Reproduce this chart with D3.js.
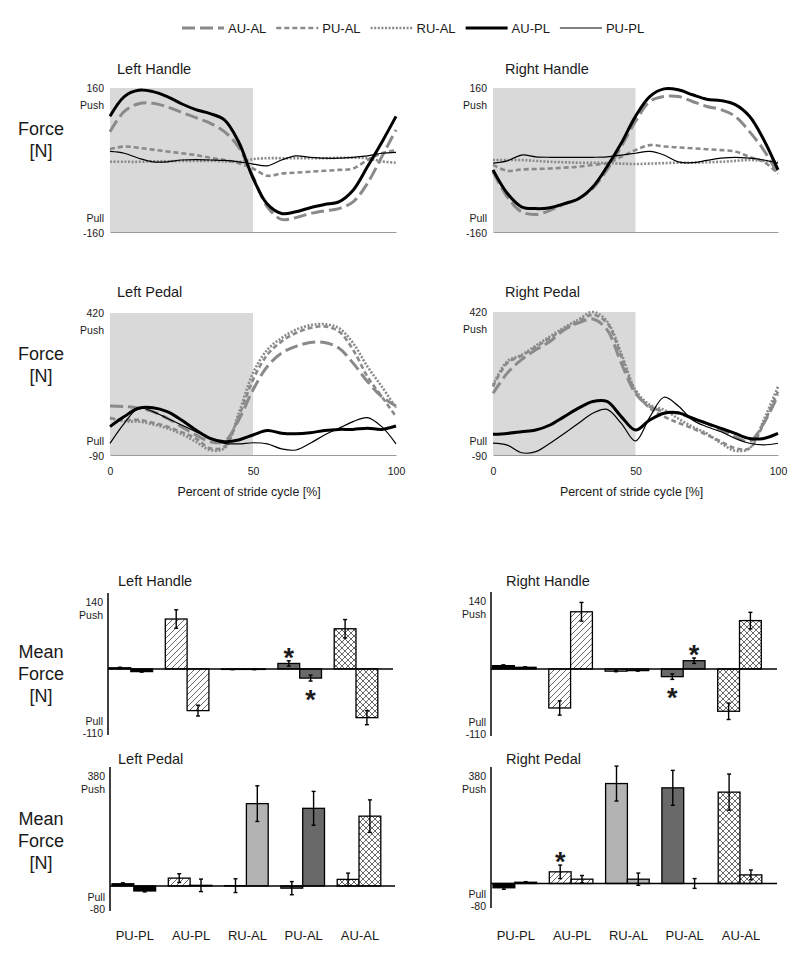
<!DOCTYPE html>
<html>
<head>
<meta charset="utf-8">
<script src="https://cdn.jsdelivr.net/npm/d3@7"></script>
<style>
  body { margin: 0; background: #fff; }
  text { font-family: "Liberation Sans", Arial, sans-serif; fill: #1a1a1a; }
</style>
</head>
<body>
<div id="chart"></div>
<script>
// ---- data ----
const seriesKeys = ["AU-AL", "PU-AL", "RU-AL", "AU-PL", "PU-PL"];
const strideSteps = [0, 5, 10, 15, 20, 25, 30, 35, 40, 45, 50, 55, 60, 65, 70, 75, 80, 85, 90, 95, 100];

// force traces over the stride cycle [N]
const leftHandle = {
  "AU-AL": [63, 108, 125, 126, 118, 106, 94, 82, 63, 28, -37, -104, -132, -128, -119, -113, -108, -93, -52, 7, 67],
  "PU-AL": [24, 30, 27, 23, 19, 15, 11, 5, 0, -7, -19, -35, -30, -28, -26, -24, -22, -19, 0, 15, 22],
  "RU-AL": [-4, -4, -4, -3, -3, -2, -2, -2, -3, -4, 2, 4, 4, 4, 4, 4, 5, 5, 4, -3, -6],
  "AU-PL": [97, 141, 155, 152, 141, 125, 112, 103, 89, 40, -40, -98, -119, -115, -106, -99, -93, -67, -15, 39, 97],
  "PU-PL": [19, 15, 4, -4, -4, 0, 1, 0, -1, -4, -9, -13, 0, 9, 6, 4, 4, 6, 9, 15, 17]
};
const rightHandle = {
  "AU-AL": [-26, -82, -115, -121, -112, -98, -86, -63, -22, 30, 86, 130, 141, 141, 130, 119, 112, 97, 63, 22, -31],
  "PU-AL": [-11, -24, -21, -20, -19, -17, -15, -11, -7, 7, 22, 33, 30, 28, 26, 24, 22, 19, 7, -4, -30],
  "RU-AL": [0, 0, 0, -2, -4, -5, -6, -6, -7, -8, -9, -8, -7, -6, -6, -5, -4, -2, 0, -2, -4],
  "AU-PL": [-22, -74, -104, -108, -106, -97, -86, -60, -15, 37, 97, 141, 158, 156, 145, 135, 132, 123, 97, 45, -22],
  "PU-PL": [-7, -2, 11, 7, 6, 6, 6, 6, 7, 11, 15, 19, 11, -4, -6, -1, 4, 6, 4, 0, -7]
};
const leftPedal = {
  "AU-AL": [86, 84, 78, 66, 42, 12, -18, -42, -42, 36, 144, 228, 276, 300, 314, 314, 294, 240, 174, 120, 86],
  "PU-AL": [42, 36, 36, 26, 12, -8, -30, -66, -60, 48, 180, 270, 318, 348, 366, 372, 354, 288, 192, 120, 48],
  "RU-AL": [44, 30, 30, 20, 6, -15, -42, -72, -66, 60, 204, 288, 330, 360, 376, 380, 366, 312, 228, 156, 80],
  "AU-PL": [12, 48, 78, 80, 66, 36, 0, -30, -42, -36, -18, -2, -12, -14, -10, -2, 2, 2, 6, 2, 14],
  "PU-PL": [-48, 24, 78, 66, 42, 18, -6, -30, -48, -50, -46, -50, -68, -72, -48, -18, 6, 30, 44, 12, -50]
};
const rightPedal = {
  "AU-AL": [130, 202, 250, 285, 315, 357, 381, 395, 357, 238, 130, 83, 65, 59, 41, 23, -1, -25, -42, 23, 124],
  "PU-AL": [154, 238, 264, 295, 327, 360, 387, 410, 381, 262, 136, 77, 47, 25, 5, -18, -42, -66, -66, 23, 136],
  "RU-AL": [160, 244, 267, 300, 333, 365, 393, 420, 387, 273, 142, 89, 71, 40, 11, -13, -48, -75, -66, 35, 154],
  "AU-PL": [-16, -13, -7, -1, 17, 47, 77, 101, 101, 47, -1, 35, 59, 61, 41, 23, 5, -13, -31, -31, -13],
  "PU-PL": [-48, -55, -82, -78, -48, -13, 23, 59, 73, 23, -40, 45, 116, 85, 35, 11, -7, -31, -48, -54, -48]
};

// mean forces (two bars per condition) and SD
const conditions = ["PU-PL", "AU-PL", "RU-AL", "PU-AL", "AU-AL"];
const lhMean1 = [2, 92, -1, 10, 74],     lhMean2 = [-5, -77, -1, -17, -90];
const lhErr1  = [1, 17, 0.5, 5, 17],     lhErr2  = [1, 10, 0.5, 5.5, 13];
const rhMean1 = [6, -71, -4, -14, -77],  rhMean2 = [3, 104, -3, 15, 88];
const rhErr1  = [1.5, 13, 1, 5, 15],     rhErr2  = [1, 17, 1, 5, 15];
const lpMean1 = [7, 25, 1, -7, 21],      lpMean2 = [-16, 2, 263, 248, 223];
const lpErr1  = [3, 14, 22, 21, 20],     lpErr2  = [3, 20, 57, 54, 52];
const rpMean1 = [-14, 38, 326, 312, 298], rpMean2 = [4, 14, 14, 0, 28];
const rpErr1  = [5, 22, 57, 57, 59],     rpErr2  = [2, 12, 20, 16, 16];

// significance markers: [condition, bar index, side]
const lhStars = [["PU-AL", 0, "above"], ["PU-AL", 1, "below"]];
const rhStars = [["PU-AL", 0, "below"], ["PU-AL", 1, "above"]];
const lpStars = [];
const rpStars = [["AU-PL", 0, "above"]];

const handleTicks = ["160", "-160"], pedalTicks = ["420", "-90"];
const handleBarTicks = ["140", "-110"], pedalBarTicks = ["380", "-80"];

// ---- setup ----
const svg = d3.select("#chart").append("svg")
  .attr("width", 800).attr("height", 967);

const gray = "#8a8a8a";
const lineStyle = {
  "AU-AL": { stroke: gray, width: 3, dash: "13,5" },
  "PU-AL": { stroke: gray, width: 2.6, dash: "5,3" },
  "RU-AL": { stroke: gray, width: 2.6, dash: "2,1.6" },
  "AU-PL": { stroke: "#000", width: 3, dash: null },
  "PU-PL": { stroke: "#000", width: 1.2, dash: null }
};

// patterns
const defs = svg.append("defs");
const hatch = defs.append("pattern").attr("id", "hatch")
  .attr("patternUnits", "userSpaceOnUse").attr("width", 6).attr("height", 6);
hatch.append("rect").attr("width", 6).attr("height", 6).attr("fill", "#fff");
hatch.append("path").attr("d", "M0,6 L6,0 M-1,1 L1,-1 M5,7 L7,5")
  .attr("stroke", "#444").attr("stroke-width", 0.8);
const cross = defs.append("pattern").attr("id", "cross")
  .attr("patternUnits", "userSpaceOnUse").attr("width", 6).attr("height", 6);
cross.append("rect").attr("width", 6).attr("height", 6).attr("fill", "#fff");
cross.append("path").attr("d", "M0,6 L6,0 M-1,1 L1,-1 M5,7 L7,5 M0,0 L6,6 M-1,5 L1,7 M5,-1 L7,1")
  .attr("stroke", "#444").attr("stroke-width", 0.8);

const barFill = {
  "PU-PL": "#000", "AU-PL": "url(#hatch)", "RU-AL": "#b3b3b3",
  "PU-AL": "#696969", "AU-AL": "url(#cross)"
};

// ---- legend ----
let lx = 182;
seriesKeys.forEach(k => {
  const s = lineStyle[k];
  svg.append("line")
    .attr("x1", lx).attr("x2", lx + 42).attr("y1", 28).attr("y2", 28)
    .attr("stroke", s.stroke).attr("stroke-width", s.width)
    .attr("stroke-dasharray", s.dash);
  const t = svg.append("text")
    .attr("x", lx + 46).attr("y", 32.5)
    .attr("font-size", "13px")
    .text(k);
  lx += 46 + t.node().getComputedTextLength() + 10;
});

function sideLabel(lines, cx, baselines) {
  lines.forEach((l, i) => {
    svg.append("text").attr("x", cx).attr("y", baselines[i])
      .attr("text-anchor", "middle").attr("font-size", "18px").text(l);
  });
}

// ---- line panels ----
function linePanel(o) {
  const x = d3.scaleLinear().domain([0, 100]).range([o.x0, o.x1]);
  const y = d3.scaleLinear().domain(o.domain).range([o.yBottom, o.yTop]);

  svg.append("rect")
    .attr("x", x(0)).attr("y", y(o.domain[1]))
    .attr("width", x(50) - x(0))
    .attr("height", y(o.domain[0]) - y(o.domain[1]))
    .attr("fill", "#d9d9d9");

  const ax = svg.append("g")
    .attr("transform", `translate(0,${y(o.domain[0])})`)
    .call(d3.axisBottom(x).tickValues([0, 50, 100]).tickSize(0).tickSizeOuter(0)
      .tickPadding(13).tickFormat(o.xLabels ? d3.format("d") : ""));
  ax.select(".domain").attr("stroke", "#9a9a9a");
  ax.selectAll("text").attr("font-size", "10.5px").attr("fill", "#1a1a1a")
    .style("font-family", "'Liberation Sans', Arial, sans-serif");

  const line = d3.line()
    .x((d, i) => x(strideSteps[i]))
    .y(d => y(d))
    .curve(d3.curveCatmullRom.alpha(0.5));

  seriesKeys.forEach(k => {
    const s = lineStyle[k];
    svg.append("path")
      .datum(o.series[k])
      .attr("fill", "none")
      .attr("stroke", s.stroke)
      .attr("stroke-width", s.width)
      .attr("stroke-dasharray", s.dash)
      .attr("d", line);
  });

  // y labels
  const lxp = o.x0 - 6;
  svg.append("text").attr("x", lxp).attr("y", y(o.domain[1]) + 4)
    .attr("text-anchor", "end").attr("font-size", "10.5px").text(o.ticks[0]);
  svg.append("text").attr("x", lxp).attr("y", y(o.domain[1]) + 21)
    .attr("text-anchor", "end").attr("font-size", "10.5px").text("Push");
  svg.append("text").attr("x", lxp).attr("y", y(o.domain[0]) - 10)
    .attr("text-anchor", "end").attr("font-size", "10.5px").text("Pull");
  svg.append("text").attr("x", lxp).attr("y", y(o.domain[0]) + 5)
    .attr("text-anchor", "end").attr("font-size", "10.5px").text(o.ticks[1]);

  svg.append("text").attr("x", o.titleX).attr("y", o.titleY)
    .attr("font-size", "14.5px").text(o.title);

  if (o.xLabels) {
    svg.append("text").attr("x", (o.x0 + o.x1) / 2 - 4).attr("y", o.yBottom + 41)
      .attr("text-anchor", "middle").attr("font-size", "12.4px")
      .text("Percent of stride cycle [%]");
  }
}

linePanel({ series: leftHandle, x0: 110, x1: 396, yTop: 88, yBottom: 232, domain: [-160, 160],
  ticks: handleTicks, title: "Left Handle", titleX: 117, titleY: 74 });
linePanel({ series: rightHandle, x0: 493, x1: 778, yTop: 88, yBottom: 232, domain: [-160, 160],
  ticks: handleTicks, title: "Right Handle", titleX: 505, titleY: 74 });
linePanel({ series: leftPedal, x0: 110, x1: 396, yTop: 313, yBottom: 455, domain: [-90, 420],
  ticks: pedalTicks, title: "Left Pedal", titleX: 117, titleY: 297, xLabels: true });
linePanel({ series: rightPedal, x0: 493, x1: 778, yTop: 312, yBottom: 455, domain: [-90, 420],
  ticks: pedalTicks, title: "Right Pedal", titleX: 505, titleY: 297, xLabels: true });

sideLabel(["Force", "[N]"], 41, [135, 157]);
sideLabel(["Force", "[N]"], 41, [360, 382]);

// ---- bar panels ----
function barPanel(o) {
  const y = d3.scaleLinear().domain(o.domain).range([o.yBottom, o.yTop]);
  const x0 = d3.scaleBand().domain(conditions)
    .range([o.barStart, o.barStart + 5 * 56.3 - 12.7]).paddingInner(12.7 / 56.3);
  const x1 = d3.scaleBand().domain([0, 1]).range([0, x0.bandwidth()]);

  const rows = [];
  conditions.forEach((c, i) => {
    rows.push({ c, b: 0, v: o.mean1[i], e: o.err1[i] });
    rows.push({ c, b: 1, v: o.mean2[i], e: o.err2[i] });
  });

  const g = svg.append("g");
  g.selectAll("rect.bar").data(rows).enter().append("rect")
    .attr("class", "bar")
    .attr("x", d => x0(d.c) + x1(d.b))
    .attr("y", d => y(Math.max(0, d.v)))
    .attr("width", x1.bandwidth())
    .attr("height", d => Math.abs(y(d.v) - y(0)))
    .attr("fill", d => barFill[d.c])
    .attr("stroke", "#000").attr("stroke-width", 1.3);

  const cx = d => x0(d.c) + x1(d.b) + x1.bandwidth() / 2;
  g.selectAll("line.err").data(rows).enter().append("line")
    .attr("x1", cx).attr("x2", cx)
    .attr("y1", d => y(d.v + d.e)).attr("y2", d => y(d.v - d.e))
    .attr("stroke", "#000").attr("stroke-width", 1.4);
  [1, -1].forEach(sgn => {
    g.selectAll(null).data(rows).enter().append("line")
      .attr("x1", d => cx(d) - 2).attr("x2", d => cx(d) + 2)
      .attr("y1", d => y(d.v + sgn * d.e)).attr("y2", d => y(d.v + sgn * d.e))
      .attr("stroke", "#000").attr("stroke-width", 1.4);
  });

  // axes
  svg.append("line").attr("x1", o.axisX).attr("x2", o.zeroEnd)
    .attr("y1", y(0)).attr("y2", y(0)).attr("stroke", "#000").attr("stroke-width", 1.5);
  svg.append("line").attr("x1", o.axisX).attr("x2", o.axisX)
    .attr("y1", o.yTop).attr("y2", o.yBottom).attr("stroke", "#000").attr("stroke-width", 1.5);

  const lxp = o.axisX - 5;
  svg.append("text").attr("x", lxp).attr("y", o.yTop + 13)
    .attr("text-anchor", "end").attr("font-size", "10.5px").text(o.ticks[0]);
  svg.append("text").attr("x", lxp).attr("y", o.yTop + 26)
    .attr("text-anchor", "end").attr("font-size", "10.5px").text("Push");
  svg.append("text").attr("x", lxp).attr("y", o.yBottom - 10)
    .attr("text-anchor", "end").attr("font-size", "10.5px").text("Pull");
  svg.append("text").attr("x", lxp).attr("y", o.yBottom + 2)
    .attr("text-anchor", "end").attr("font-size", "10.5px").text(o.ticks[1]);

  svg.append("text").attr("x", o.titleX).attr("y", o.titleY)
    .attr("font-size", "14.5px").text(o.title);

  o.stars.forEach(([c, b, side]) => {
    const d = rows.find(r => r.c === c && r.b === b);
    const top = side === "above";
    const ey = top ? y(Math.max(d.v, 0) + d.e) - 10 : y(Math.min(d.v, 0) - d.e) + 12;
    svg.append("text").attr("x", cx(d)).attr("y", ey + 16)
      .attr("text-anchor", "middle").attr("font-size", "27px")
      .attr("font-weight", "bold").text("*");
  });

  if (o.catLabels) {
    svg.selectAll(null).data(conditions).enter().append("text")
      .attr("x", c => x0(c) + x0.bandwidth() / 2 + 1)
      .attr("y", 940)
      .attr("text-anchor", "middle").attr("font-size", "13px")
      .text(c => c);
  }
}

barPanel({ mean1: lhMean1, mean2: lhMean2, err1: lhErr1, err2: lhErr2, stars: lhStars,
  domain: [-122, 140], yTop: 593, yBottom: 735, axisX: 108, barStart: 109, zeroEnd: 393,
  ticks: handleBarTicks, title: "Left Handle", titleX: 118, titleY: 586 });
barPanel({ mean1: rhMean1, mean2: rhMean2, err1: rhErr1, err2: rhErr2, stars: rhStars,
  domain: [-122, 140], yTop: 592, yBottom: 736, axisX: 491, barStart: 492.5, zeroEnd: 777,
  ticks: handleBarTicks, title: "Right Handle", titleX: 506, titleY: 586 });
barPanel({ mean1: lpMean1, mean2: lpMean2, err1: lpErr1, err2: lpErr2, stars: lpStars,
  domain: [-80, 380], yTop: 767, yBottom: 911, axisX: 110, barStart: 112, zeroEnd: 395,
  ticks: pedalBarTicks, title: "Left Pedal", titleX: 118, titleY: 764, catLabels: true });
barPanel({ mean1: rpMean1, mean2: rpMean2, err1: rpErr1, err2: rpErr2, stars: rpStars,
  domain: [-80, 380], yTop: 767, yBottom: 908, axisX: 491, barStart: 493, zeroEnd: 777,
  ticks: pedalBarTicks, title: "Right Pedal", titleX: 506, titleY: 764, catLabels: true });

sideLabel(["Mean", "Force", "[N]"], 41, [658, 680, 702]);
sideLabel(["Mean", "Force", "[N]"], 41, [825, 847, 869]);
</script>
</body>
</html>
